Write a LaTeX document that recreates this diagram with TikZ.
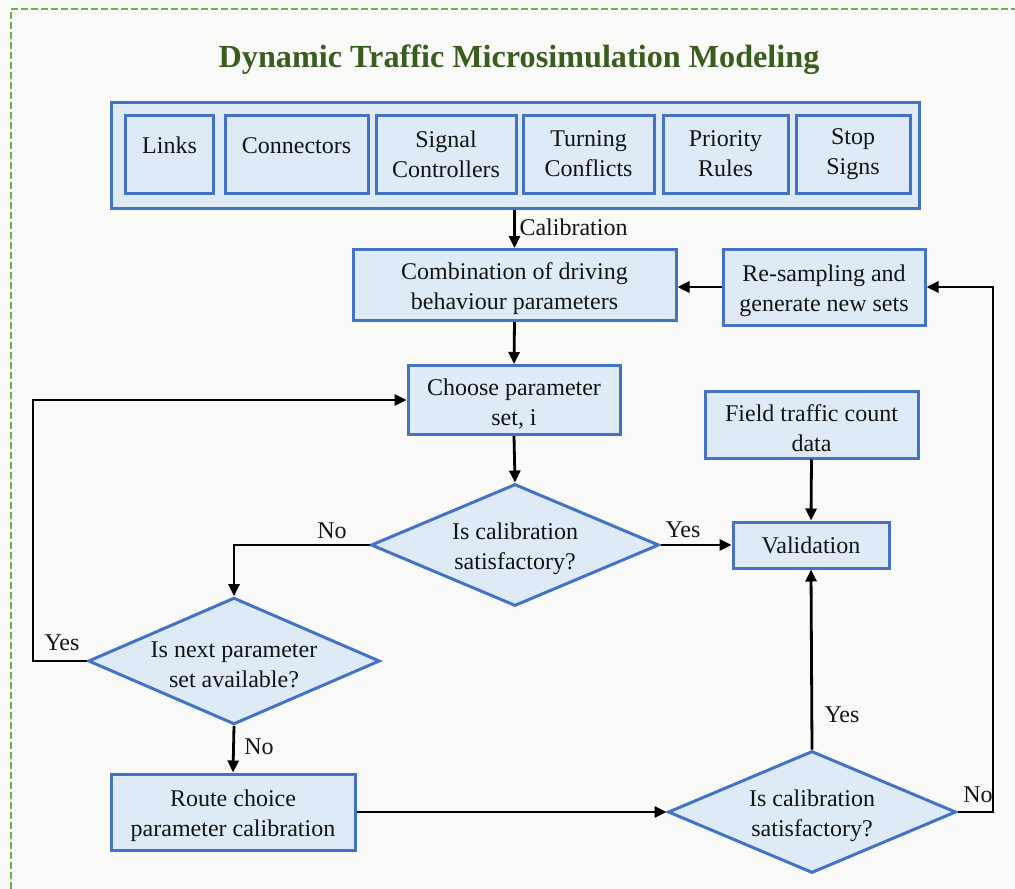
\documentclass[tikz,border=0pt]{standalone}
\usepackage{fontspec}
\setmainfont{Liberation Serif}
\usetikzlibrary{arrows.meta,shapes.geometric}
\definecolor{boxfill}{HTML}{DEEAF6}
\definecolor{boxline}{HTML}{4472C4}
\definecolor{framegreen}{HTML}{70AD47}
\definecolor{titlegreen}{HTML}{3B5C1F}
\definecolor{paper}{HTML}{F9F9F8}
% taller first line, so two-line texts sit a little lower in their shapes
\newcommand{\upstrut}{\rule{0pt}{24pt}}
\begin{document}
\begin{tikzpicture}[x=1pt,y=-1pt,
  txt/.style={font=\fontsize{24}{30}\selectfont, text=black!92},
  box/.style={txt, draw=boxline, fill=boxfill, line width=3pt, align=center, inner sep=0pt},
  raised/.style={text depth=17pt},
  decision/.style={txt, diamond, draw=boxline, fill=boxfill, line width=3pt,
    align=center, inner sep=0pt, aspect=2.3, minimum width=288pt, minimum height=122pt},
  flow/.style={line width=2.8pt, draw=black, -{Triangle[length=12pt,width=11pt]}},
  lbl/.style={txt}]

% page and dashed frame
\fill[paper] (0,0) rectangle (1015,889);
\useasboundingbox (0,0) rectangle (1015,889);
\draw[framegreen, line width=2pt, dash pattern=on 7pt off 3pt] (11,889) -- (11,9) -- (1015,9);

% title
\node[font=\fontsize{32.2}{36}\selectfont\bfseries, text=titlegreen] (title) at (519,60)
  {Dynamic Traffic Microsimulation Modeling};

% network elements
\node[box, minimum width=808pt, minimum height=106pt] (model) at (515,155) {};
\node[box, raised, minimum width=88pt,  minimum height=78pt] (links) at (169.5,154) {Links};
\node[box, raised, minimum width=143pt, minimum height=78pt] (conn)  at (296.5,154) {Connectors};
\node[box, minimum width=140pt, minimum height=78pt] (sig)   at (446,154) {Signal\\Controllers};
\node[box, minimum width=131pt, minimum height=78pt] (turn)  at (588.5,154) {Turning\\Conflicts};
\node[box, minimum width=125pt, minimum height=78pt] (prio)  at (725.5,154) {Priority\\Rules};
\node[box, minimum width=114pt, minimum height=78pt] (stop)  at (853,154) {Stop\\Signs};

% process boxes
\node[box, minimum width=323pt, minimum height=71pt] (comb)   at (514.5,285) {\upstrut Combination of driving\\behaviour parameters};
\node[box, minimum width=202pt, minimum height=76pt] (resamp) at (824,287) {\upstrut Re-sampling and\\generate new sets};
\node[box, minimum width=212pt, minimum height=69pt] (choose) at (514,400) {\upstrut Choose parameter\\set, i};
\node[box, minimum width=213pt, minimum height=67pt] (field)  at (811.5,424.5) {\upstrut Field traffic count\\data};
\node[box, minimum width=156pt, minimum height=46pt] (val)    at (811,545) {Validation};
\node[box, minimum width=244pt, minimum height=76pt] (route)  at (233,812) {\upstrut Route choice\\parameter calibration};

% decisions
\node[decision] (d1) at (515,545) {\upstrut Is calibration\\satisfactory?};
\node[decision] (d2) at (234,661) {\upstrut Is next parameter\\set available?};
\node[decision] (d3) at (812,812) {\upstrut Is calibration\\satisfactory?};

% bends
\coordinate (yesturn) at (33,661);
\coordinate (noturn) at (993,812);

% connectors
\draw[flow] (comb.north |- model.south) -- (comb.north);
\draw[flow] (resamp.west) -- (resamp.west -| comb.east);
\draw[flow] (comb.south) -- (choose.north);
\draw[flow] (choose.south) -- (d1.north);
\draw[flow] (d1.east) -- (val.west);
\draw[flow] (d1.west) -| (d2.north);
\draw[flow] (d2.west) -- (yesturn) |- (choose.west);
\draw[flow] (d2.south) -- (route.north);
\draw[flow] (route.east) -- (d3.west);
\draw[flow] (d3.north) -- (val.south);
\draw[flow] (d3.east) -- (noturn) |- (resamp.east);
\draw[flow] (field.south) -- (val.north);

% connector labels
\node[lbl, anchor=west] (lcal) at (516,227) {Calibration};
\node[lbl] (lno1)  at (332,531) {No};
\node[lbl] (lyes1) at (683,530) {Yes};
\node[lbl] (lyes2) at (62,643) {Yes};
\node[lbl] (lno2)  at (259,747) {No};
\node[lbl] (lyes3) at (842,715) {Yes};
\node[lbl] (lno3)  at (978,795) {No};
\end{tikzpicture}
\end{document}
